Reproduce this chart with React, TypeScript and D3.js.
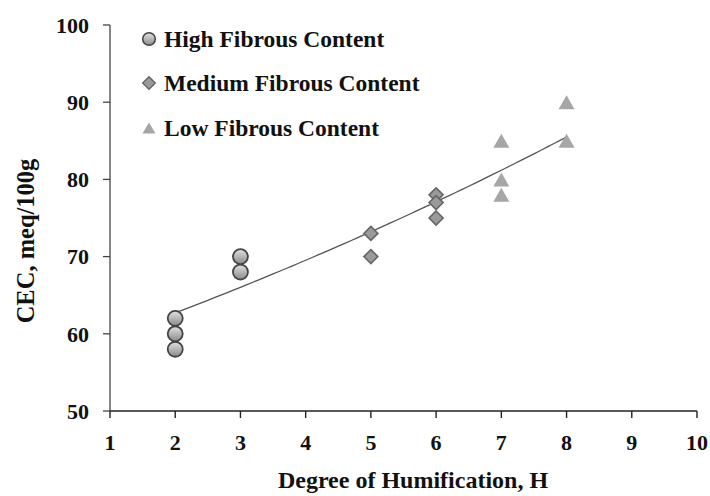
import React from "react";
import * as d3 from "d3";

// CEC vs degree of humification, grouped by fibre content
const highH = [2, 2, 2, 3, 3];
const highCEC = [58, 60, 62, 68, 70];
const medH = [5, 5, 6, 6, 6];
const medCEC = [73, 70, 78, 77, 75];
const lowH = [7, 7, 7, 8, 8];
const lowCEC = [85, 80, 78, 90, 85];

// exponential trend y = a * exp(b * x), drawn over H = 2..8
const trendCoef = [56.54, 0.05169];
const trendRange = [2, 8];

const xTicks = [1, 2, 3, 4, 5, 6, 7, 8, 9, 10];
const yTicks = [50, 60, 70, 80, 90, 100];
const legendLabels = ["High Fibrous Content", "Medium Fibrous Content", "Low Fibrous Content"];

const W = 710;
const H = 496;
const M = { left: 110, right: 13, top: 25, bottom: 85 };
const FONT = "'Liberation Serif', 'Times New Roman', serif";

export default function App() {
  const x = d3.scaleLinear().domain([1, 10]).range([M.left, W - M.right]);
  const y = d3.scaleLinear().domain([50, 100]).range([H - M.bottom, M.top]);

  const trendPts = d3.range(trendRange[0], trendRange[1] + 0.001, 0.1).map((h) => [h, trendCoef[0] * Math.exp(trendCoef[1] * h)]);
  const trendPath = d3.line<number[]>().x((d) => x(d[0])).y((d) => y(d[1]))(trendPts) || "";

  const diamond = (cx: number, cy: number, r: number) => `M${cx},${cy - r}L${cx + r},${cy}L${cx},${cy + r}L${cx - r},${cy}Z`;
  const triangle = (cx: number, cy: number, w: number, h: number) =>
    `M${cx},${cy - h / 2}L${cx + w / 2},${cy + h / 2}L${cx - w / 2},${cy + h / 2}Z`;

  const textStyle = { fontFamily: FONT, fontWeight: 700 as const, fill: "#111" };
  const x0 = M.left;
  const yBase = H - M.bottom;

  const legendY = [39, 83, 128];

  return (
    <svg width={W} height={H} style={{ position: "absolute", left: 0, top: 0, background: "#fff" }}>
      <defs>
        <linearGradient id="ballFill" x1="0" y1="0" x2="0" y2="1">
          <stop offset="0" stopColor="#e2e2e2" />
          <stop offset="1" stopColor="#8a8a8a" />
        </linearGradient>
      </defs>

      {/* axes */}
      <line x1={x0} x2={x0} y1={y(100)} y2={yBase} stroke="#444" strokeWidth={1.3} />
      <line x1={x0} x2={x(10)} y1={yBase} y2={yBase} stroke="#222" strokeWidth={1.6} />
      {yTicks.map((t) => (
        <g key={"y" + t}>
          <line x1={x0 - 7} x2={x0} y1={y(t)} y2={y(t)} stroke="#444" strokeWidth={1.3} />
          <text x={89} y={y(t)} dy="0.35em" textAnchor="end" fontSize={22} style={textStyle}>
            {t}
          </text>
        </g>
      ))}
      {xTicks.map((t) => (
        <g key={"x" + t}>
          <line x1={x(t)} x2={x(t)} y1={yBase} y2={yBase + 7} stroke="#222" strokeWidth={1.4} />
          <text x={x(t)} y={442} dy="0.35em" textAnchor="middle" fontSize={22} style={textStyle}>
            {t}
          </text>
        </g>
      ))}

      <text x={413} y={480} dy="0.35em" textAnchor="middle" fontSize={24} style={textStyle}>
        Degree of Humification, H
      </text>
      <text transform={`translate(25,${241}) rotate(-90)`} dy="0.35em" textAnchor="middle" fontSize={24.5} style={textStyle}>
        CEC, meq/100g
      </text>

      {/* trend */}
      <path d={trendPath} fill="none" stroke="#555" strokeWidth={1.3} />

      {/* markers */}
      {highH.map((h, i) => (
        <circle key={"h" + i} cx={x(h)} cy={y(highCEC[i])} r={7.5} fill="url(#ballFill)" stroke="#444" strokeWidth={1.8} />
      ))}
      {medH.map((h, i) => (
        <path key={"m" + i} d={diamond(x(h), y(medCEC[i]), 7)} fill="#9a9a9a" stroke="#666" strokeWidth={1.6} />
      ))}
      {lowH.map((h, i) => (
        <path key={"l" + i} d={triangle(x(h), y(lowCEC[i]), 16, 14)} fill="#a6a6a6" />
      ))}

      {/* legend */}
      <circle cx={149} cy={legendY[0]} r={6.3} fill="url(#ballFill)" stroke="#444" strokeWidth={1.6} />
      <path d={diamond(149, legendY[1], 6.3)} fill="#9a9a9a" stroke="#666" strokeWidth={1.4} />
      <path d={triangle(149, legendY[2], 13, 11)} fill="#a6a6a6" />
      {legendLabels.map((l, i) => (
        <text key={l} x={164} y={legendY[i]} dy="0.35em" fontSize={23.5} style={textStyle}>
          {l}
        </text>
      ))}
    </svg>
  );
}
